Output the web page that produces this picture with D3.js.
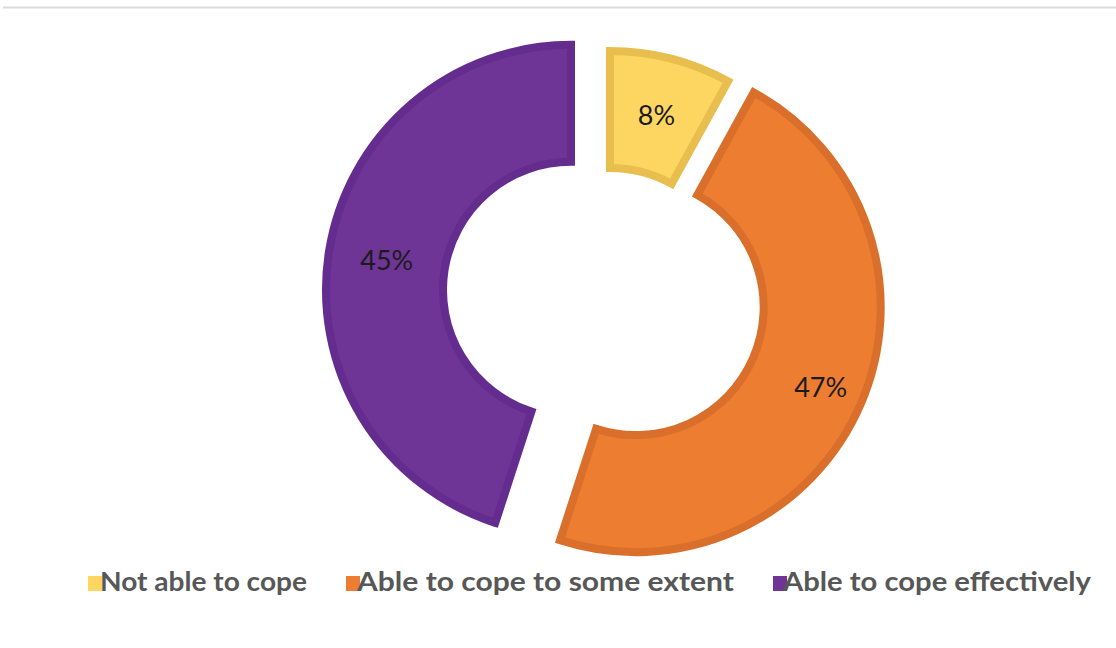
<!DOCTYPE html>
<html>
<head>
<meta charset="utf-8">
<script src="https://cdn.jsdelivr.net/npm/d3@7"></script>
<style>
  html, body { margin: 0; padding: 0; background: #ffffff; }
  svg { display: block; }
</style>
</head>
<body>
<svg id="chart" width="1116" height="648"></svg>
<script>
// Survey answers: share of respondents per coping level (percent)
const categories = ["Not able to cope", "Able to cope to some extent", "Able to cope effectively"];
const values = [8, 47, 45];
const valueLabels = ["8%", "47%", "45%"];

// Presentation settings
const fills   = ["#FDD561", "#ED7D31", "#6E3596"];
const borders = ["#E8BE4E", "#D96F2A", "#652C8F"];
const explode = [0, 28, 39.5];        // outward offset of each slice, px
const labelRadiusExtra = [0, 15, 0];  // nudges the label along the slice centre line

const W = 1116, H = 648;
const cx = 610, cy = 296;
const outerR = 245, innerR = 128;

const svg = d3.select("#chart");

// thin rule along the top of the chart area
svg.append("line")
  .attr("x1", 3).attr("x2", W).attr("y1", 7.5).attr("y2", 7.5)
  .attr("stroke", "#dcdcdc").attr("stroke-width", 2);

const pie = d3.pie().sort(null).value(d => d)(values);
const arc = d3.arc().innerRadius(innerR).outerRadius(outerR);

const g = svg.append("g").attr("transform", `translate(${cx},${cy})`);

const slices = g.selectAll("g.slice")
  .data(pie)
  .join("g")
  .attr("class", "slice")
  .attr("transform", (d, i) => {
    const a = (d.startAngle + d.endAngle) / 2;
    return `translate(${Math.sin(a) * explode[i]},${-Math.cos(a) * explode[i]})`;
  });

slices.append("path")
  .attr("d", arc)
  .attr("fill", (d, i) => fills[i])
  .attr("stroke", (d, i) => borders[i])
  .attr("stroke-width", 8)
  .attr("stroke-linejoin", "miter");

slices.append("text")
  .attr("transform", (d, i) => {
    const a = (d.startAngle + d.endAngle) / 2;
    const r = (innerR + outerR) / 2 + labelRadiusExtra[i];
    return `translate(${Math.sin(a) * r},${-Math.cos(a) * r})`;
  })
  .attr("text-anchor", "middle")
  .attr("dy", "0.36em")
  .attr("font-family", "Lato, 'Open Sans', sans-serif")
  .attr("font-size", 27)
  .attr("fill", "#1b1b1b")
  .text((d, i) => valueLabels[i]);

// Legend along the bottom
const legendSwatchX = [88, 346, 773];
const legendTextX = [100, 357, 783];
const legendTextW = [207, 377, 308];

const legend = svg.append("g").attr("class", "legend");
categories.forEach((c, i) => {
  legend.append("rect")
    .attr("x", legendSwatchX[i]).attr("y", 576)
    .attr("width", 14).attr("height", 15)
    .attr("fill", fills[i]);
  legend.append("text")
    .attr("x", legendTextX[i]).attr("y", 591)
    .attr("font-family", "Lato, 'Open Sans', sans-serif")
    .attr("font-weight", "bold")
    .attr("font-size", 27)
    .attr("fill", "#575757")
    .attr("textLength", legendTextW[i])
    .attr("lengthAdjust", "spacingAndGlyphs")
    .text(c);
});
</script>
</body>
</html>
